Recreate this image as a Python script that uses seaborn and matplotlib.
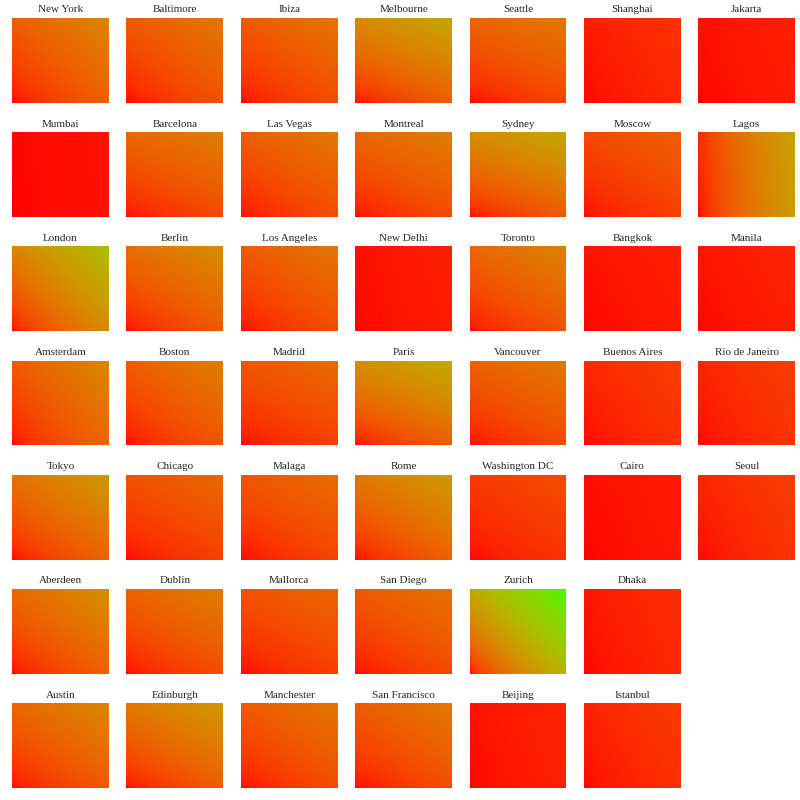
import numpy as np
import matplotlib
matplotlib.use("Agg")
import matplotlib.pyplot as plt
import seaborn as sns
from matplotlib.colors import ListedColormap

# --- Data: per city, colour reached at bottom-right (x weight) and top-left (y weight) ---
cities = [
    "New York", "Baltimore", "Ibiza", "Melbourne", "Seattle", "Shanghai", "Jakarta",
    "Mumbai", "Barcelona", "Las Vegas", "Montreal", "Sydney", "Moscow", "Lagos",
    "London", "Berlin", "Los Angeles", "New Delhi", "Toronto", "Bangkok", "Manila",
    "Amsterdam", "Boston", "Madrid", "Paris", "Vancouver", "Buenos Aires", "Rio de Janeiro",
    "Tokyo", "Chicago", "Malaga", "Rome", "Washington DC", "Cairo", "Seoul",
    "Aberdeen", "Dublin", "Mallorca", "San Diego", "Zurich", "Dhaka",
    "Austin", "Edinburgh", "Manchester", "San Francisco", "Beijing", "Istanbul",
]
x_weight = [
    0.14, 0.10, 0.09, 0.13, 0.07, 0.025, 0.012,
    0.004, 0.08, 0.09, 0.08, 0.12, 0.06, 0.37,
    0.29, 0.12, 0.09, 0.012, 0.10, 0.010, 0.014,
    0.16, 0.11, 0.06, 0.13, 0.08, 0.035, 0.040,
    0.15, 0.06, 0.07, 0.14, 0.04, 0.008, 0.040,
    0.14, 0.09, 0.06, 0.08, 0.50, 0.025,
    0.12, 0.13, 0.09, 0.09, 0.016, 0.035,
]
y_weight = [
    0.13, 0.12, 0.12, 0.29, 0.15, 0.012, 0.004,
    0.0005, 0.16, 0.13, 0.16, 0.30, 0.08, 0.03,
    0.26, 0.18, 0.12, 0.003, 0.16, 0.005, 0.006,
    0.12, 0.13, 0.11, 0.31, 0.14, 0.025, 0.020,
    0.20, 0.10, 0.11, 0.22, 0.05, 0.003, 0.020,
    0.17, 0.15, 0.10, 0.12, 0.43, 0.008,
    0.16, 0.22, 0.12, 0.13, 0.005, 0.018,
]
# cities per grid row
row_counts = [7, 7, 7, 7, 7, 6, 6]

# red -> green colour ramp (fine steps so faint gradients stay smooth)
t = np.linspace(0, 1, 4096)
cmap = ListedColormap(np.column_stack([np.sqrt(1 - t), np.sqrt(t), np.zeros_like(t)]))

sns.set_style("white")
plt.rcParams['font.family'] = ['Liberation Serif', 'DejaVu Serif']

n_cols = 7
n_rows = len(row_counts)
fig, axes = plt.subplots(n_rows, n_cols, figsize=(8, 8), dpi=100)
fig.subplots_adjust(left=0.015, right=0.994, top=0.9775, bottom=0.015,
                    wspace=0.18, hspace=0.347)

slots = [(r, c) for r, n in enumerate(row_counts) for c in range(n)]
for ax in axes.flat:
    ax.axis("off")

grid = np.linspace(0, 1, 80)
gx, gy = np.meshgrid(grid, grid[::-1])

for i, (r, c) in enumerate(slots):
    ax = axes[r, c]
    ax.axis("on")
    z = x_weight[i] * gx + y_weight[i] * gy
    sns.heatmap(z, ax=ax, cmap=cmap, vmin=0, vmax=1, cbar=False,
                xticklabels=False, yticklabels=False)
    ax.set_title(cities[i], fontsize=8, pad=4)
    ax.set_xlabel("")
    ax.set_ylabel("")

plt.savefig("out.png", dpi=100)
plt.close(fig)
